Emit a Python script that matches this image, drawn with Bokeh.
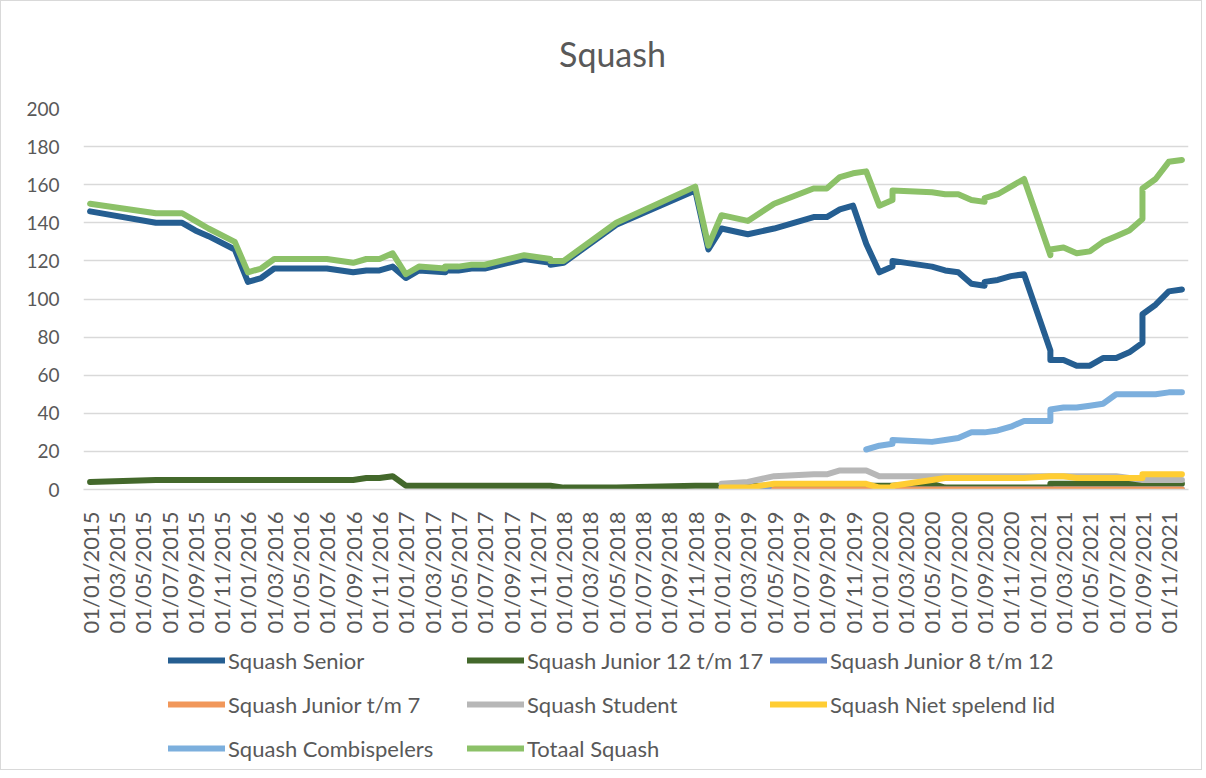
import numpy as np
from bokeh.plotting import figure
from bokeh.layouts import column
from bokeh.models import Range1d, FixedTicker, Legend, LegendItem, ColumnDataSource, Label
from bokeh.embed import file_html
from bokeh.resources import INLINE

# ---------------- data ----------------
months = ["2015-01", "2015-06", "2015-08", "2015-09", "2015-10", "2015-12",
          "2016-01", "2016-02", "2016-03", "2016-07", "2016-09", "2016-10", "2016-11", "2016-12",
          "2017-01", "2017-02", "2017-04", "2017-04", "2017-05", "2017-06", "2017-07", "2017-10",
          "2017-12", "2017-12", "2018-01", "2018-05", "2018-11", "2018-12",
          "2019-01", "2019-03", "2019-05", "2019-08", "2019-09", "2019-10", "2019-11", "2019-12",
          "2020-01", "2020-02", "2020-02", "2020-05", "2020-06", "2020-07", "2020-08", "2020-09",
          "2020-09", "2020-10", "2020-11", "2020-12",
          "2021-02", "2021-02", "2021-03", "2021-04", "2021-05", "2021-06", "2021-07", "2021-08",
          "2021-09", "2021-09", "2021-10", "2021-11", "2021-12"]

senior = [146, 140, 140, 136, 133, 126,
          109, 111, 116, 116, 114, 115, 115, 117,
          111, 115, 114, 115, 115, 116, 116, 121,
          119, 118, 119, 139, 157, 126,
          137, 134, 137, 143, 143, 147, 149, 129,
          114, 117, 120, 117, 115, 114, 108, 107,
          109, 110, 112, 113,
          73, 68, 68, 65, 65, 69, 69, 72,
          77, 92, 97, 104, 105]

junior_12_17 = [4, 5, 5, 5, 5, 5,
                5, 5, 5, 5, 5, 6, 6, 7,
                2, 2, 2, 2, 2, 2, 2, 2,
                2, 2, 1, 1, 2, 2,
                2, 2, 2, 2, 2, 2, 2, 2,
                2, 2, 2, 3, 1, 1, 1, 1,
                1, 1, 1, 1,
                1, 3, 3, 3, 3, 3, 3, 3,
                3, 3, 3, 3, 3]

N = None
junior_8_12 = [N] * 28 + [1, 1, 0, 0, 0, 0, 0, 0,
                          0, 0, 0, 0, 0, 0, 0, 0,
                          0, 0, 0, 0,
                          0, 0, 0, 0, 0, 0, 0, 0,
                          0, 0, 0, 0, 0]

junior_7 = [N] * 28 + [N, N, 0, 0, 0, 0, 0, 0,
                       0, 0, 0, 0, 0, 0, 0, 0,
                       0, 0, 0, 0,
                       0, 0, 0, 0, 0, 0, 0, 0,
                       0, 0, 0, 0, 0]

student = [N] * 28 + [3, 4, 7, 8, 8, 10, 10, 10,
                      7, 7, 7, 7, 7, 7, 7, 7,
                      7, 7, 7, 7,
                      7, 7, 7, 7, 7, 7, 7, 6,
                      5, 5, 5, 5, 5]

niet_spelend = [N] * 28 + [1, 1, 3, 3, 3, 3, 3, 3,
                           1, 1, 2, 5, 6, 6, 6, 6,
                           6, 6, 6, 6,
                           7, 7, 7, 6, 6, 6, 6, 6,
                           6, 8, 8, 8, 8]

combispelers = [N] * 35 + [21,
                           23, 24, 26, 25, 26, 27, 30, 30,
                           30, 31, 33, 36,
                           36, 42, 43, 43, 44, 45, 50, 50,
                           50, 50, 50, 51, 51]

totaal = [150, 145, 145, 141, 137, 130,
          114, 116, 121, 121, 119, 121, 121, 124,
          113, 117, 116, 117, 117, 118, 118, 123,
          121, 120, 120, 140, 159, 128,
          144, 141, 150, 158, 158, 164, 166, 167,
          149, 152, 157, 156, 155, 155, 152, 151,
          153, 155, 159, 163,
          123, 126, 127, 124, 125, 130, 133, 136,
          142, 158, 163, 172, 173]

series_names = ["Squash Senior", "Squash Junior 12 t/m 17", "Squash Junior 8 t/m 12",
                "Squash Junior t/m 7", "Squash Student", "Squash Niet spelend lid",
                "Squash Combispelers", "Totaal Squash"]
series_colors = ["#255E91", "#43682B", "#698ED0", "#F1975A",
                 "#B7B7B7", "#FFCD33", "#7CAFDD", "#8CC168"]

tick_labels = ["01/01/2015", "01/03/2015", "01/05/2015", "01/07/2015", "01/09/2015", "01/11/2015",
               "01/01/2016", "01/03/2016", "01/05/2016", "01/07/2016", "01/09/2016", "01/11/2016",
               "01/01/2017", "01/03/2017", "01/05/2017", "01/07/2017", "01/09/2017", "01/11/2017",
               "01/01/2018", "01/03/2018", "01/05/2018", "01/07/2018", "01/09/2018", "01/11/2018",
               "01/01/2019", "01/03/2019", "01/05/2019", "01/07/2019", "01/09/2019", "01/11/2019",
               "01/01/2020", "01/03/2020", "01/05/2020", "01/07/2020", "01/09/2020", "01/11/2020",
               "01/01/2021", "01/03/2021", "01/05/2021", "01/07/2021", "01/09/2021", "01/11/2021"]

y_ticks = [0, 20, 40, 60, 80, 100, 120, 140, 160, 180, 200]

chart_title = "Squash"

# ---------------- helpers ----------------
def month_slot(s):
    # Excel date axis with base unit "months": every month is one slot, points centred in it
    parts = s.split("/")
    if len(parts) == 3:
        y, m = int(parts[2]), int(parts[1])
    else:
        y, m = int(s.split("-")[0]), int(s.split("-")[1])
    return (y - 2015) * 12 + (m - 1) + 0.5

def arr(v):
    return np.array([np.nan if x is None else x for x in v], dtype=float)

x_vals = [month_slot(m) for m in months]
data = dict(x=x_vals, s0=arr(senior), s1=arr(junior_12_17), s2=arr(junior_8_12),
            s3=arr(junior_7), s4=arr(student), s5=arr(niet_spelend),
            s6=arr(combispelers), s7=arr(totaal))
src = ColumnDataSource(data)

FONT = "Lato"
GREY_TXT = "#595959"
GRID = "#D9D9D9"
W = 1200


def strip(height):
    f = figure(width=W, height=height, output_backend="svg", toolbar_location=None,
               x_axis_type=None, y_axis_type=None, x_range=Range1d(0, 1), y_range=Range1d(0, 1),
               min_border=0, title=None)
    f.outline_line_color = None
    f.background_fill_color = "white"
    f.border_fill_color = "white"
    return f


# ---------------- title strip ----------------
tf = strip(80)
tf.add_layout(Label(x=529, y=28, x_units="screen", y_units="screen", text=chart_title,
                    text_align="center", text_baseline="middle", text_font=FONT,
                    text_font_size="34px", text_color=GREY_TXT))

# ---------------- main chart ----------------
p = figure(width=W, height=567, output_backend="svg", toolbar_location=None,
           x_range=Range1d(0, 84), y_range=Range1d(0, 200), title=None,
           min_border_left=82, min_border_right=13, min_border_top=27, min_border_bottom=159)
p.outline_line_color = None
p.background_fill_color = "white"
p.border_fill_color = "white"

tick_pos = [month_slot(t) for t in tick_labels]
p.xaxis.ticker = FixedTicker(ticks=tick_pos)
p.xaxis.major_label_overrides = {tp: lbl for tp, lbl in zip(tick_pos, tick_labels)}
p.xaxis.major_label_orientation = np.pi / 2
p.xaxis.axis_line_color = GRID
p.xaxis.axis_line_width = 1.5
p.xaxis.major_tick_line_color = None
p.xaxis.minor_tick_line_color = None
p.xaxis.major_label_standoff = 16
p.xaxis.major_label_text_font = FONT
p.xaxis.major_label_text_font_size = "22px"
p.xaxis.major_label_text_color = GREY_TXT

p.yaxis.ticker = FixedTicker(ticks=y_ticks)
p.yaxis.axis_line_color = None
p.yaxis.major_tick_line_color = None
p.yaxis.minor_tick_line_color = None
p.yaxis.major_label_standoff = 18
p.yaxis.major_label_text_font = FONT
p.yaxis.major_label_text_font_size = "19px"
p.yaxis.major_label_text_color = GREY_TXT

p.xgrid.visible = False
p.ygrid.grid_line_color = GRID
p.ygrid.grid_line_width = 1.3

for i, col in enumerate(series_colors):
    p.line("x", f"s{i}", source=src, line_color=col, line_width=6,
           line_join="round", line_cap="round")

# ---------------- legend strip (3 columns x 3 rows) ----------------
lf = strip(121)
col_x = [85, 384, 687]
row_y = [95, 51, 7]
for i, (name, col) in enumerate(zip(series_names, series_colors)):
    # swatch-only renderer (no visible data) so that the legend draws the line sample
    sw = lf.line(x=[np.nan], y=[np.nan], line_color=col, line_width=6, line_cap="round")
    row, c = divmod(i, 3)
    lg = Legend(items=[LegendItem(label=name, renderers=[sw])],
                location=(col_x[c], row_y[row]),
                glyph_width=57, glyph_height=28, label_height=28,
                label_standoff=3, padding=0, margin=0, spacing=0,
                border_line_color=None, background_fill_alpha=0,
                label_text_font=FONT, label_text_font_size="22px",
                label_text_color=GREY_TXT, label_text_baseline="middle")
    lf.add_layout(lg, "center")

layout = column(tf, p, lf, spacing=0)
layout.styles = {"border": "1px solid #D9D9D9"}

open("out.html", "w").write(file_html(layout, INLINE))
